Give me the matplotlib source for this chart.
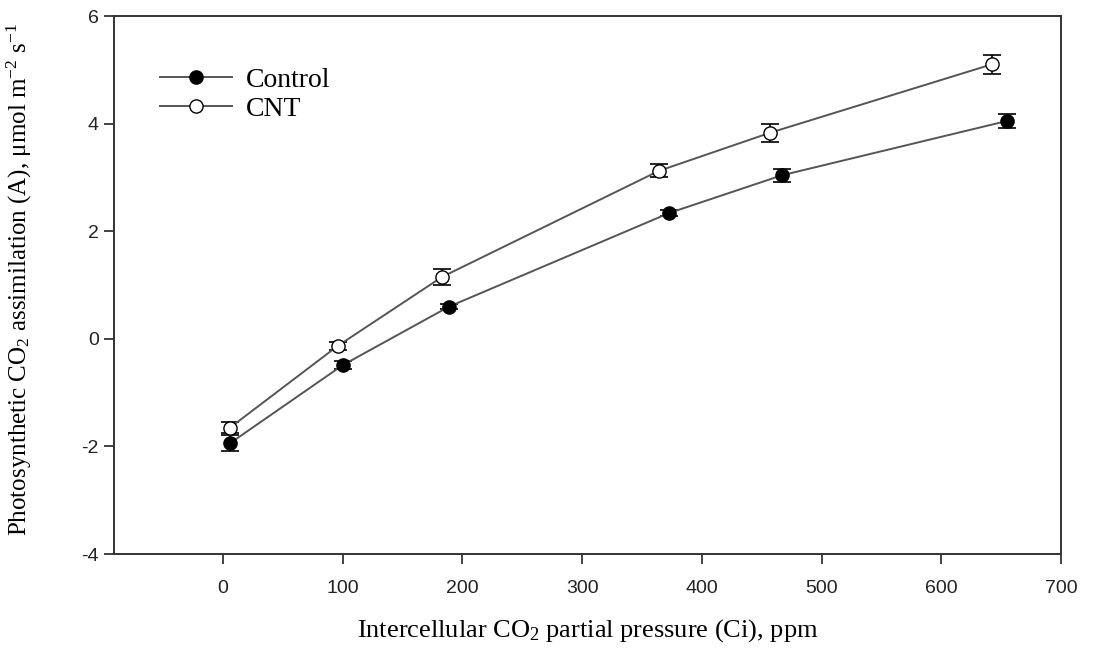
import matplotlib
matplotlib.use("Agg")
import matplotlib.pyplot as plt
from matplotlib.lines import Line2D

plt.rcParams['mathtext.fontset'] = 'custom'
plt.rcParams['mathtext.rm'] = 'Liberation Serif'
plt.rcParams['mathtext.it'] = 'Liberation Serif:italic'
plt.rcParams['axes.unicode_minus'] = False

# Control (filled circles)
ci_control = [6, 100, 189, 373, 467, 655]
a_control = [-1.94, -0.49, 0.60, 2.34, 3.04, 4.05]
err_control = [0.15, 0.07, 0.05, 0.06, 0.12, 0.13]

# CNT (open circles)
ci_cnt = [6, 96, 183, 364, 457, 642]
a_cnt = [-1.65, -0.13, 1.15, 3.12, 3.83, 5.10]
err_cnt = [0.10, 0.07, 0.15, 0.12, 0.17, 0.18]

xticks = [0, 100, 200, 300, 400, 500, 600, 700]
yticks = [-4, -2, 0, 2, 4, 6]

fig = plt.figure(figsize=(10.93, 6.51), dpi=100)
ax = fig.add_axes([0.1043, 0.149, 0.8664, 0.8264])

line_col = '#555555'
style = dict(color=line_col, lw=1.4, marker='o', ms=9.5, mec='black',
             ecolor='black', elinewidth=1.2, capsize=6.5, capthick=1.2)
ax.errorbar(ci_control, a_control, yerr=err_control, mfc='black', **style)
ax.errorbar(ci_cnt, a_cnt, yerr=err_cnt, mfc='white', **style)

ax.set_xlim(-91, 700)
ax.set_ylim(-4, 6)
ax.set_xticks(xticks)
ax.set_yticks(yticks)
ax.tick_params(direction='out', length=7, width=1.2,
               labelsize=14, colors='#222222')
ax.tick_params(axis='x', pad=12)
ax.tick_params(axis='y', pad=4)
for lab in ax.get_xticklabels() + ax.get_yticklabels():
    lab.set_family('Liberation Sans')
for sp in ax.spines.values():
    sp.set_linewidth(1.4)
    sp.set_color('#333333')

ax.set_xlabel('Intercellular CO$_2$ partial pressure (Ci), ppm',
              family='Liberation Serif', fontsize=19, labelpad=14)
ax.set_ylabel('Photosynthetic CO$_2$ assimilation (A), \u03bcmol m$^{-2}$ s$^{-1}$',
              family='Liberation Serif', fontsize=18)
ax.yaxis.set_label_coords(-0.084, 0.51)

handles = [
    Line2D([], [], color=line_col, lw=1.4, marker='o', ms=9.5,
           mfc='black', mec='black'),
    Line2D([], [], color=line_col, lw=1.4, marker='o', ms=9.5,
           mfc='white', mec='black'),
]
ax.legend(handles, ['Control', 'CNT'], loc='upper left',
          bbox_to_anchor=(0.0486, 0.905), borderaxespad=0, borderpad=0,
          frameon=False, prop={'family': 'Liberation Serif', 'size': 20},
          handlelength=2.6, handletextpad=0.5, labelspacing=0.13)

fig.savefig('out.png', dpi=100)
